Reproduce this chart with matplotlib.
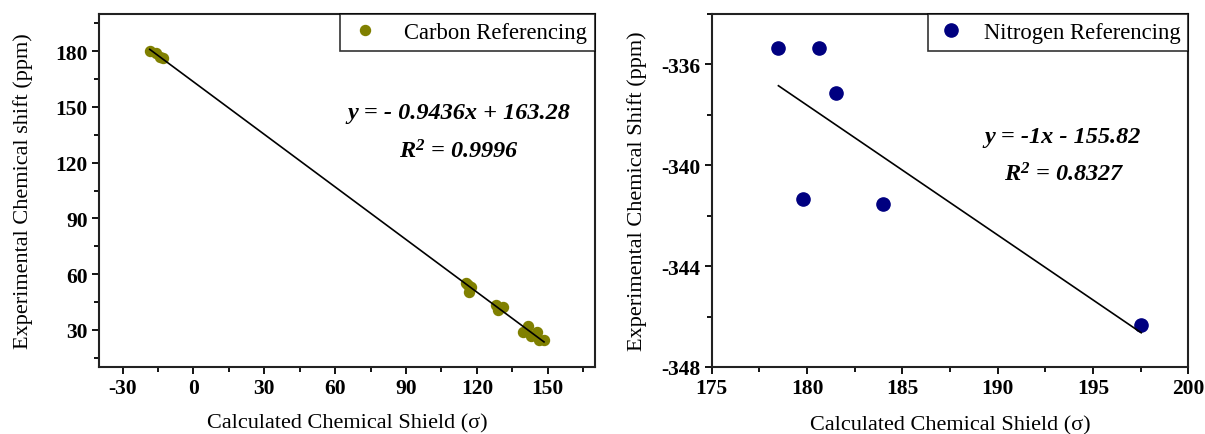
import numpy as np
import matplotlib
matplotlib.use("Agg")
import matplotlib.pyplot as plt
from matplotlib.ticker import MultipleLocator

plt.rcParams['font.family'] = ['Liberation Serif', 'DejaVu Serif']
plt.rcParams['mathtext.fontset'] = 'custom'
plt.rcParams['mathtext.rm'] = 'Liberation Serif:italic:bold'
plt.rcParams['mathtext.it'] = 'Liberation Serif:italic:bold'
plt.rcParams['axes.unicode_minus'] = False

# Carbon referencing data
carbon_x = [-18.5, -15.8, -14.0, -12.9,
            115.4, 117.5, 116.8, 116.2,
            127.9, 131.0, 128.9,
            141.8, 139.7, 143.0, 145.5, 146.5, 148.4]
carbon_y = [180.3, 178.8, 176.7, 176.2,
            55.1, 53.3, 50.6, 54.0,
            43.4, 42.2, 40.7,
            31.8, 28.6, 26.5, 28.6, 24.6, 24.6]

# Nitrogen referencing data
nitrogen_x = [178.5, 180.64, 181.51, 179.78, 183.98, 197.53]
nitrogen_y = [-335.33, -335.33, -337.13, -341.33, -341.54, -346.34]

carbon_eq = "y = - 0.9436x + 163.28"
carbon_r2 = "R$^2$ = 0.9996"
nitrogen_eq = "y = -1x - 155.82"
nitrogen_r2 = "R$^2$ = 0.8327"

W, H = 1205, 435
fig = plt.figure(figsize=(W / 100, H / 100), dpi=100)

def px_axes(l, t, r, b):
    return fig.add_axes([l / W, 1 - b / H, (r - l) / W, (b - t) / H])

ax1 = px_axes(99, 15, 595, 368)
ax2 = px_axes(711.7, 15, 1188.3, 368)

def style(ax):
    for s in ax.spines.values():
        s.set_linewidth(1.5)
        s.set_color('#222222')
    ax.tick_params(which='major', direction='out', length=5, width=1.3,
                   labelsize=15.5, pad=3, top=False, right=False)
    ax.tick_params(which='minor', direction='out', length=3.5, width=1.3,
                   top=False, right=False)
    for lab in ax.get_xticklabels() + ax.get_yticklabels():
        lab.set_fontweight('bold')

# Left plot
ax1.plot(carbon_x, carbon_y, 'o', color='#808000', markersize=7.2,
         label='Carbon Referencing', zorder=3)
c = np.polyfit(carbon_x, carbon_y, 1)
xl = np.array([min(carbon_x), max(carbon_x)])
ax1.plot(xl, np.polyval(c, xl), color='black', lw=1.2, zorder=4)
ax1.set_xlim(-40, 170)
ax1.set_ylim(10, 200)
ax1.xaxis.set_major_locator(MultipleLocator(30))
ax1.xaxis.set_minor_locator(MultipleLocator(15))
ax1.yaxis.set_major_locator(MultipleLocator(30))
ax1.yaxis.set_minor_locator(MultipleLocator(15))
ax1.set_xlabel('Calculated Chemical Shield (σ)', fontsize=16, labelpad=11)
ax1.set_ylabel('Experimental Chemical shift (ppm)', fontsize=16, labelpad=16)
style(ax1)
leg1 = ax1.legend(loc='upper right', fontsize=16.3, frameon=True, fancybox=False,
                  borderaxespad=0, handletextpad=1.0, borderpad=0.35,
                  handlelength=1.5)
leg1.get_frame().set_edgecolor('black')
leg1.get_frame().set_linewidth(1.2)

# Right plot
ax2.plot(nitrogen_x, nitrogen_y, 'o', color='#000080', markersize=9.5,
         label='Nitrogen Referencing', zorder=3)
n = np.polyfit(nitrogen_x, nitrogen_y, 1)
xn = np.array([min(nitrogen_x), max(nitrogen_x)])
ax2.plot(xn, np.polyval(n, xn), color='black', lw=1.2, zorder=4)
ax2.set_xlim(175, 200)
ax2.set_ylim(-348, -334)
ax2.xaxis.set_major_locator(MultipleLocator(5))
ax2.xaxis.set_minor_locator(MultipleLocator(2.5))
ax2.yaxis.set_major_locator(MultipleLocator(4))
ax2.yaxis.set_minor_locator(MultipleLocator(2))
ax2.set_xlabel('Calculated Chemical Shield (σ)', fontsize=16, labelpad=12)
ax2.set_ylabel('Experimental Chemical Shift (ppm)', fontsize=16, labelpad=10)
style(ax2)
leg2 = ax2.legend(loc='upper right', fontsize=16.3, frameon=True, fancybox=False,
                  borderaxespad=0, handletextpad=0.8, borderpad=0.35,
                  handlelength=1.3)
leg2.get_frame().set_edgecolor('black')
leg2.get_frame().set_linewidth(1.2)

def txt(x, y, s):
    fig.text(x / W, 1 - y / H, s, fontsize=17.5, fontweight='bold',
             style='italic', ha='center', va='center')

txt(459, 113.3, carbon_eq)
txt(459, 151.7, carbon_r2)
txt(1063, 137.7, nitrogen_eq)
txt(1064, 175, nitrogen_r2)

fig.savefig('out.png', dpi=100)
